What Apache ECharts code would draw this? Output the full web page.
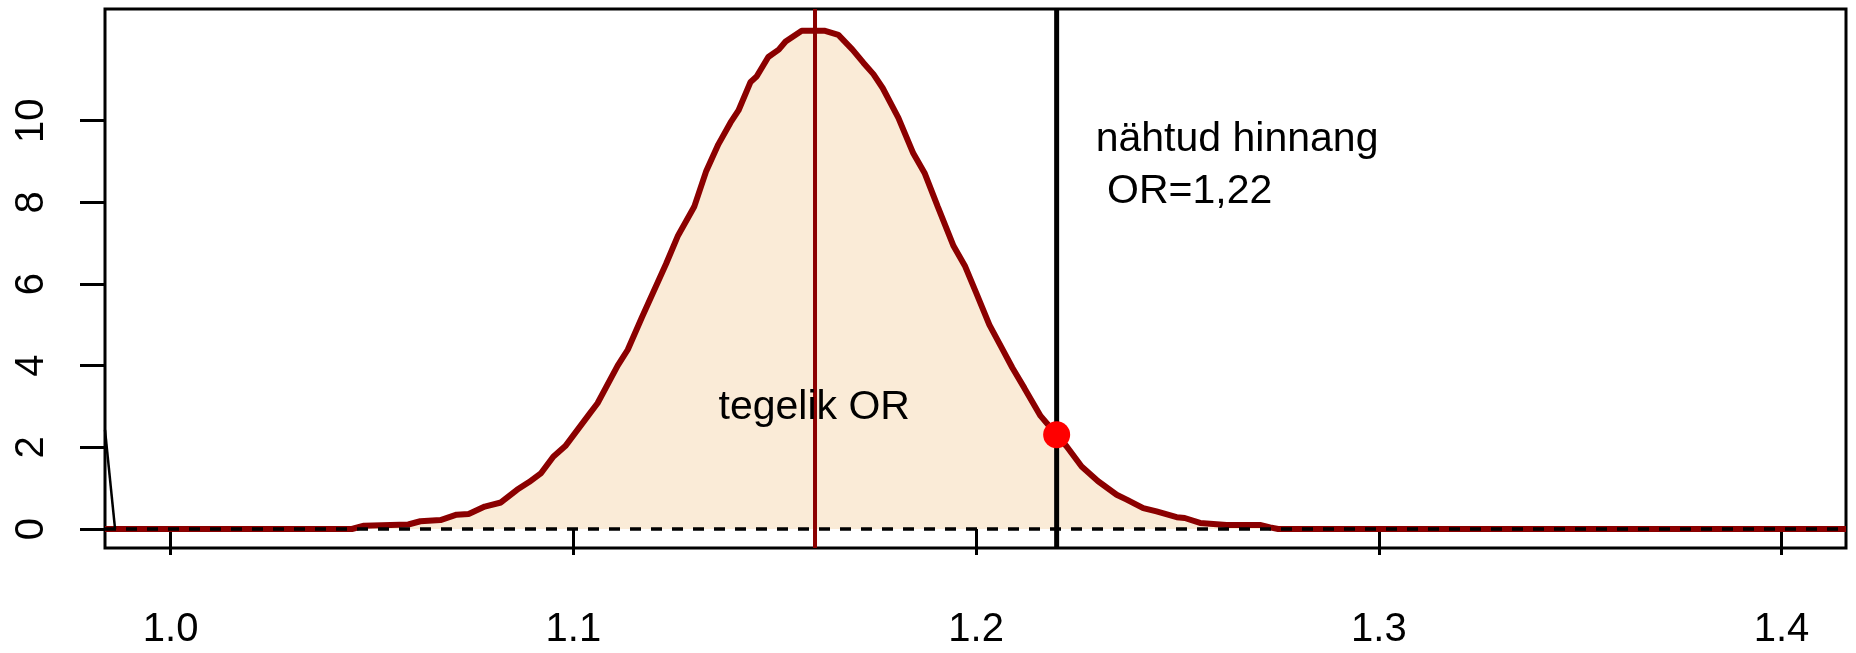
<!DOCTYPE html>
<html>
<head>
<meta charset="utf-8">
<script src="https://cdn.jsdelivr.net/npm/echarts@6/dist/echarts.min.js"></script>
<style>
  html, body { margin: 0; padding: 0; background: #fff; }
  #chart { width: 1856px; height: 653px; }
</style>
</head>
<body>
<div id="chart"></div>
<script>
// density of the simulated OR (read off the picture)
const densX = [0.9837, 1.045, 1.048, 1.059, 1.062, 1.067, 1.071, 1.074, 1.078, 1.082, 1.086, 1.089,
  1.092, 1.095, 1.098, 1.104, 1.106, 1.111, 1.1135, 1.117, 1.123, 1.126, 1.130, 1.133, 1.136,
  1.139, 1.141, 1.144, 1.1455, 1.1484, 1.151, 1.1527, 1.1567, 1.1625, 1.1658, 1.1693, 1.172,
  1.1745, 1.1768, 1.1807, 1.1844, 1.1872, 1.1905, 1.1944, 1.1972, 1.200, 1.2033, 1.2063, 1.209,
  1.212, 1.216, 1.220, 1.2225, 1.2262, 1.2303, 1.2349, 1.2374, 1.2415, 1.2448, 1.2498, 1.2518,
  1.2556, 1.2622, 1.2705, 1.273, 1.275, 1.416];
const densY = [0, 0, 0.08, 0.11, 0.19, 0.22, 0.35, 0.37, 0.55, 0.65, 0.96, 1.15,
  1.37, 1.77, 2.03, 2.82, 3.08, 4.0, 4.39, 5.18, 6.49, 7.19, 7.89, 8.77, 9.42,
  9.95, 10.25, 10.95, 11.08, 11.56, 11.74, 11.94, 12.2, 12.2, 12.1, 11.74, 11.42,
  11.14, 10.8, 10.07, 9.2, 8.72, 7.89, 6.93, 6.45, 5.79, 5.0, 4.45, 3.95,
  3.45, 2.77, 2.31, 2.02, 1.53, 1.17, 0.84, 0.72, 0.51, 0.43, 0.29, 0.27,
  0.15, 0.1, 0.1, 0.04, 0, 0];

// steep black line entering from the left edge
const leftX = [0.9837, 0.9862];
const leftY = [2.43, 0];

const trueOR = 1.16;
const observedOR = 1.22;
const observedDens = 2.31;

const xTicks = [1.0, 1.1, 1.2, 1.3, 1.4];
const yTicks = [0, 2, 4, 6, 8, 10];

const xMin = 0.9837, xMax = 1.416;
const yMin = -0.465, yMax = 12.735;

const FONT = "'Liberation Sans', Arial, sans-serif";

const zip = (a, b) => a.map((v, i) => [v, b[i]]);

const chart = echarts.init(document.getElementById('chart'));

const option = {
  animation: false,
  grid: {
    left: 105, right: 10, top: 9, bottom: 105,
    show: true, borderColor: '#000', borderWidth: 3, backgroundColor: 'transparent'
  },
  xAxis: {
    type: 'value',
    min: xMin, max: xMax,
    axisLine: { show: false },
    splitLine: { show: false },
    axisTick: {
      show: true, length: 26, customValues: xTicks,
      lineStyle: { color: '#000', width: 3 }
    },
    axisLabel: {
      customValues: xTicks,
      formatter: v => v.toFixed(1),
      fontSize: 40, fontFamily: FONT, color: '#000', margin: 62
    }
  },
  yAxis: {
    type: 'value',
    min: yMin, max: yMax,
    axisLine: { show: false },
    splitLine: { show: false },
    axisTick: {
      show: true, length: 25, customValues: yTicks,
      lineStyle: { color: '#000', width: 3 }
    },
    axisLabel: {
      customValues: yTicks,
      rotate: 90,
      fontSize: 40, fontFamily: FONT, color: '#000', margin: 53
    }
  },
  series: [
    {
      type: 'line',
      data: zip(densX, densY),
      symbol: 'none',
      lineStyle: { color: '#8B0000', width: 6 },
      areaStyle: { color: '#FAEBD7', opacity: 1 },
      z: 2
    },
    {
      type: 'line',
      data: zip(leftX, leftY),
      symbol: 'none',
      lineStyle: { color: '#000', width: 2.5 },
      z: 3
    },
    {
      type: 'line',
      data: [[xMin, 0], [xMax, 0]],
      symbol: 'none',
      lineStyle: { color: '#000', width: 3.5, type: [11, 10] },
      z: 4
    },
    {
      type: 'line',
      data: [[trueOR, yMin], [trueOR, yMax]],
      symbol: 'none',
      lineStyle: { color: '#8B0000', width: 4 },
      z: 5
    },
    {
      type: 'line',
      data: [[observedOR, yMin], [observedOR, yMax]],
      symbol: 'none',
      lineStyle: { color: '#000', width: 5 },
      z: 5
    },
    {
      type: 'scatter',
      data: [[observedOR, observedDens]],
      symbol: 'circle',
      symbolSize: 27,
      itemStyle: { color: '#FF0000', opacity: 1 },
      z: 6
    },
    {
      type: 'scatter',
      symbolSize: 0,
      silent: true,
      itemStyle: { opacity: 1 },
      data: [
        { value: [1.1598, 2.97], label: { formatter: 'tegelik OR', align: 'center' } },
        { value: [1.2297, 8.886], label: { formatter: 'nähtud hinnang\n OR=1,22', align: 'left', lineHeight: 52 } }
      ],
      label: {
        show: true, position: [0, 0], verticalAlign: 'middle',
        fontSize: 41, fontFamily: FONT, color: '#000', opacity: 1
      },
      z: 7
    }
  ]
};

chart.setOption(option);
</script>
</body>
</html>
